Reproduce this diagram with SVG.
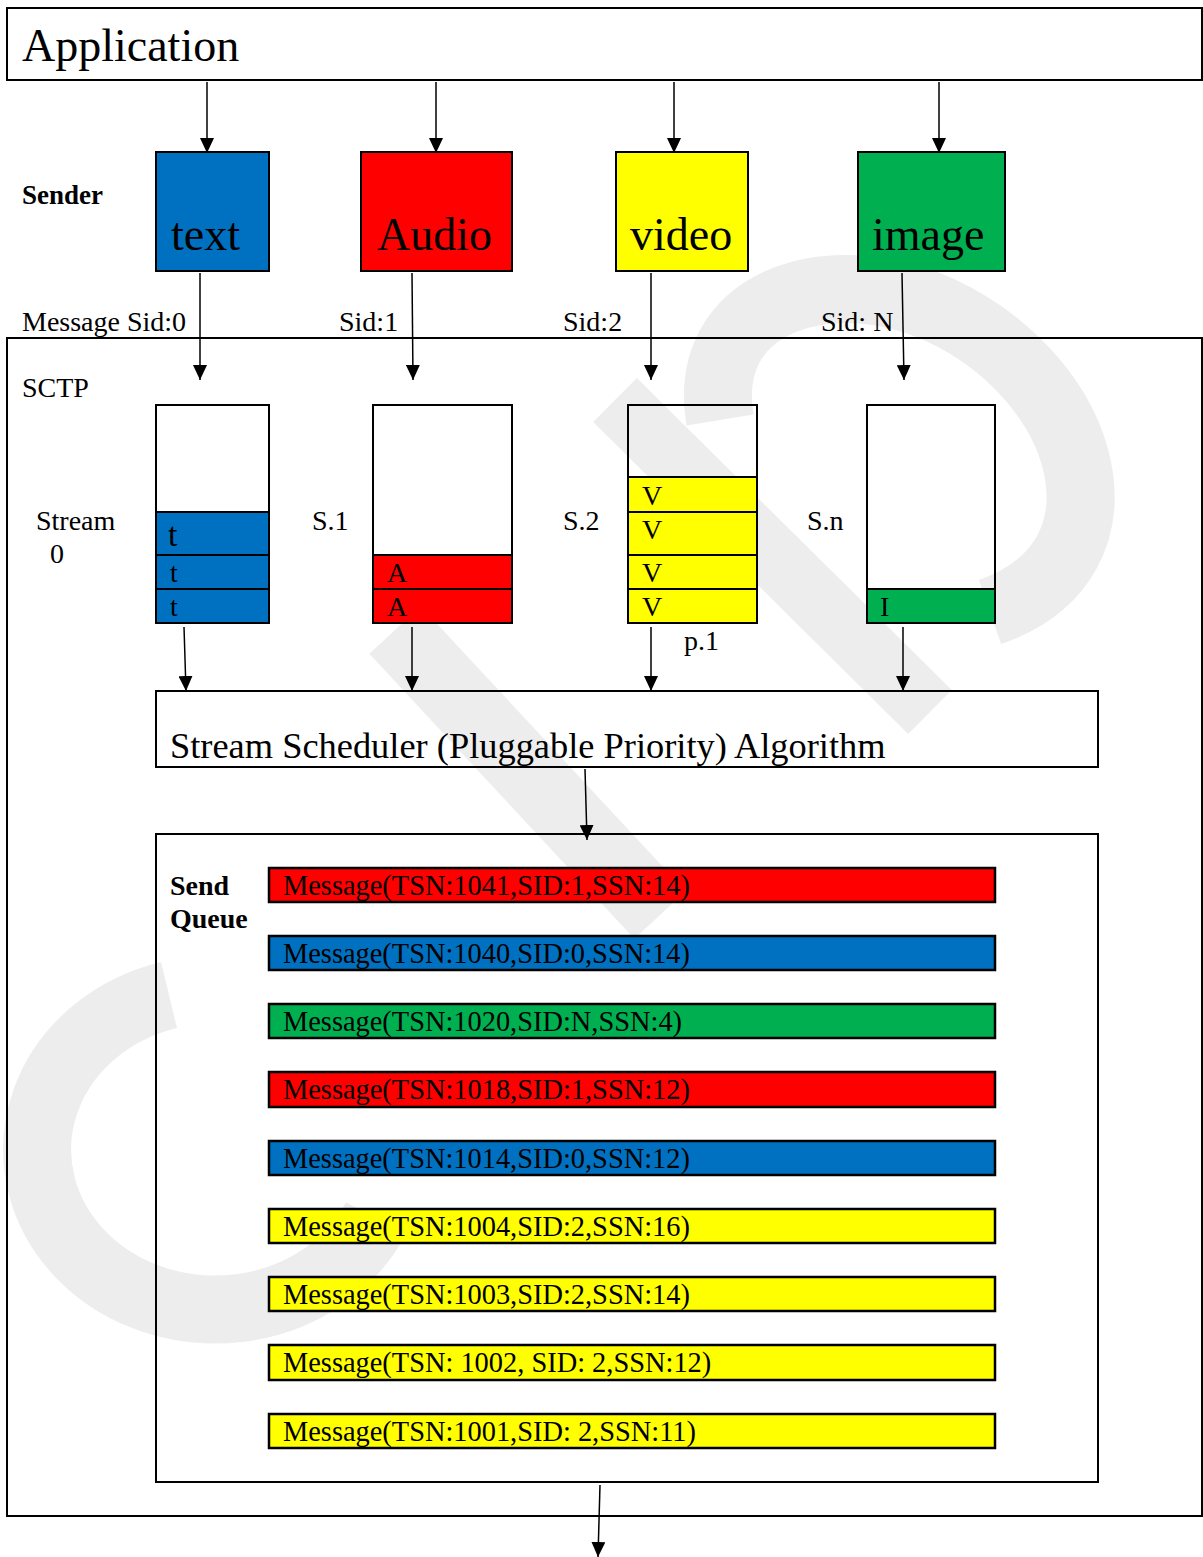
<svg xmlns="http://www.w3.org/2000/svg" width="1203" height="1557" viewBox="0 0 1203 1557">
  <style>
    text { font-family: "Liberation Serif", "Times New Roman", serif; fill: #000; }
    .big { font-size: 46px; }
    .lbl { font-size: 28px; }
    .bold { font-size: 27px; font-weight: bold; }
    .sched { font-size: 36.4px; }
    .msg { font-size: 28.4px; }
    .box { fill: none; stroke: #000; stroke-width: 2; }
    .cell { stroke: #000; stroke-width: 2; }
    .bar { stroke: #000; stroke-width: 2.5; }
    .conn { fill: none; stroke: #000; stroke-width: 1.5; marker-end: url(#ah); }
    .wm { fill: none; stroke: #ededed; }
    .blue { fill: #0070C0; }
    .red { fill: #FF0000; }
    .yellow { fill: #FFFF00; }
    .green { fill: #00B050; }
  </style>
  <defs>
    <marker id="ah" viewBox="0 0 15 14" refX="15" refY="7" markerWidth="15" markerHeight="14" markerUnits="userSpaceOnUse" orient="auto">
      <path d="M0,0 L15,7 L0,14 z" fill="#000"/>
    </marker>
  </defs>
  <rect x="0" y="0" width="1203" height="1557" fill="#fff"/>

  <g id="watermark">
    <path class="wm" stroke-width="68" d="M 169 995 A 178 160 0 1 0 376 1218"/>
    <path class="wm" stroke-width="62" d="M 615 400 L 930 712"/>
    <path class="wm" stroke-width="70" d="M 395 630 L 660 915"/>
    <path class="wm" stroke-width="68" d="M 720 420 C 700 300, 830 260, 940 310 C 1090 380, 1140 560, 990 612"/>
  </g>

  <g id="application">
    <rect class="box" x="7" y="8" width="1195" height="72"/>
    <text class="big" x="22" y="61">Application</text>
  </g>

  <g id="sender-label"><text class="bold" x="22" y="204">Sender</text></g>

  <g id="sender-text">
    <rect class="cell blue" x="156" y="152" width="113" height="119"/>
    <text class="big" x="171" y="250">text</text>
  </g>
  <g id="sender-audio">
    <rect class="cell red" x="361" y="152" width="151" height="119"/>
    <text class="big" x="377" y="250">Audio</text>
  </g>
  <g id="sender-video">
    <rect class="cell yellow" x="616" y="152" width="132" height="119"/>
    <text class="big" x="630" y="250">video</text>
  </g>
  <g id="sender-image">
    <rect class="cell green" x="858" y="152" width="147" height="119"/>
    <text class="big" x="872" y="250">image</text>
  </g>

  <g id="sid-labels">
    <text class="lbl" x="22" y="331">Message Sid:0</text>
    <text class="lbl" x="339" y="331">Sid:1</text>
    <text class="lbl" x="563" y="331">Sid:2</text>
    <text class="lbl" x="821" y="331">Sid: N</text>
  </g>

  <g id="sctp">
    <rect class="box" x="7" y="338" width="1195" height="1178"/>
    <text class="lbl" x="22" y="397">SCTP</text>
  </g>

  <g id="stream-0">
    <rect class="cell blue" x="156" y="512" width="113" height="111"/>
    <line class="cell" x1="156" y1="555" x2="269" y2="555"/>
    <line class="cell" x1="156" y1="589" x2="269" y2="589"/>
    <rect class="box" x="156" y="405" width="113" height="218"/>
    <text style="font-size:34px" x="168" y="546">t</text>
    <text class="lbl" x="170" y="582">t</text>
    <text class="lbl" x="170" y="616">t</text>
    <text class="lbl" x="36" y="530">Stream</text>
    <text class="lbl" x="50" y="563">0</text>
  </g>

  <g id="stream-1">
    <rect class="cell red" x="373" y="555" width="139" height="68"/>
    <line class="cell" x1="373" y1="589" x2="512" y2="589"/>
    <rect class="box" x="373" y="405" width="139" height="218"/>
    <text class="lbl" x="387" y="582">A</text>
    <text class="lbl" x="387" y="616">A</text>
    <text class="lbl" x="312" y="530">S.1</text>
  </g>

  <g id="stream-2">
    <rect class="cell yellow" x="628" y="477" width="129" height="146"/>
    <line class="cell" x1="628" y1="512" x2="757" y2="512"/>
    <line class="cell" x1="628" y1="555" x2="757" y2="555"/>
    <line class="cell" x1="628" y1="589" x2="757" y2="589"/>
    <rect class="box" x="628" y="405" width="129" height="218"/>
    <text class="lbl" x="642" y="505">V</text>
    <text class="lbl" x="642" y="539">V</text>
    <text class="lbl" x="642" y="582">V</text>
    <text class="lbl" x="642" y="616">V</text>
    <text class="lbl" x="563" y="530">S.2</text>
    <text class="lbl" x="684" y="650">p.1</text>
  </g>

  <g id="stream-n">
    <rect class="cell green" x="867" y="589" width="128" height="34"/>
    <rect class="box" x="867" y="405" width="128" height="218"/>
    <text class="lbl" x="880" y="616">I</text>
    <text class="lbl" x="807" y="530">S.n</text>
  </g>

  <g id="scheduler">
    <rect class="box" x="156" y="691" width="942" height="76"/>
    <text class="sched" x="170" y="758">Stream Scheduler (Pluggable Priority) Algorithm</text>
  </g>

  <g id="send-queue">
    <rect class="box" x="156" y="834" width="942" height="648"/>
    <text class="bold" x="170" y="895" style="font-size:28px">Send</text>
    <text class="bold" x="170" y="928" style="font-size:28px">Queue</text>
  </g>

  <g id="msg-1041"><rect class="bar red" x="269" y="868" width="726" height="34"/><text class="msg" x="283" y="895">Message(TSN:1041,SID:1,SSN:14)</text></g>
  <g id="msg-1040"><rect class="bar blue" x="269" y="936" width="726" height="34"/><text class="msg" x="283" y="963">Message(TSN:1040,SID:0,SSN:14)</text></g>
  <g id="msg-1020"><rect class="bar green" x="269" y="1004" width="726" height="34"/><text class="msg" x="283" y="1031">Message(TSN:1020,SID:N,SSN:4)</text></g>
  <g id="msg-1018"><rect class="bar red" x="269" y="1072" width="726" height="35"/><text class="msg" x="283" y="1099">Message(TSN:1018,SID:1,SSN:12)</text></g>
  <g id="msg-1014"><rect class="bar blue" x="269" y="1141" width="726" height="34"/><text class="msg" x="283" y="1168">Message(TSN:1014,SID:0,SSN:12)</text></g>
  <g id="msg-1004"><rect class="bar yellow" x="269" y="1209" width="726" height="34"/><text class="msg" x="283" y="1236">Message(TSN:1004,SID:2,SSN:16)</text></g>
  <g id="msg-1003"><rect class="bar yellow" x="269" y="1277" width="726" height="34"/><text class="msg" x="283" y="1304">Message(TSN:1003,SID:2,SSN:14)</text></g>
  <g id="msg-1002"><rect class="bar yellow" x="269" y="1345" width="726" height="35"/><text class="msg" x="283" y="1372">Message(TSN: 1002, SID: 2,SSN:12)</text></g>
  <g id="msg-1001"><rect class="bar yellow" x="269" y="1414" width="726" height="34"/><text class="msg" x="283" y="1441">Message(TSN:1001,SID: 2,SSN:11)</text></g>

  <g id="connectors">
    <line class="conn" x1="207" y1="82" x2="207" y2="153"/>
    <line class="conn" x1="436" y1="82" x2="436" y2="153"/>
    <line class="conn" x1="674" y1="82" x2="674" y2="153"/>
    <line class="conn" x1="939" y1="82" x2="939" y2="153"/>
    <line class="conn" x1="200" y1="273" x2="200" y2="380"/>
    <line class="conn" x1="412" y1="273" x2="413" y2="380"/>
    <line class="conn" x1="651" y1="273" x2="651" y2="380"/>
    <line class="conn" x1="902" y1="273" x2="904" y2="380"/>
    <line class="conn" x1="184" y1="627" x2="186" y2="691"/>
    <line class="conn" x1="412" y1="627" x2="412" y2="691"/>
    <line class="conn" x1="651" y1="627" x2="651" y2="691"/>
    <line class="conn" x1="903" y1="627" x2="903" y2="691"/>
    <line class="conn" x1="585" y1="769" x2="587" y2="840"/>
    <line class="conn" x1="600" y1="1485" x2="598" y2="1557"/>
  </g>
</svg>
